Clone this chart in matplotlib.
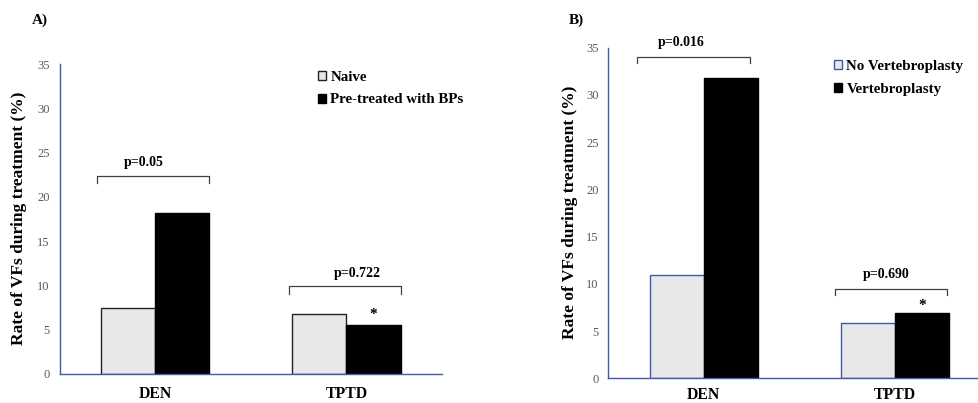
import matplotlib
matplotlib.use("Agg")
import matplotlib.pyplot as plt
from matplotlib.patches import Patch
import numpy as np

plt.rcParams['font.family'] = ['Liberation Serif', 'DejaVu Serif']

categories = ["DEN", "TPTD"]
a_labels = ["Naive", "Pre-treated with BPs"]
a_naive = [7.5, 6.8]
a_pretreated = [18.2, 5.5]
a_pvalues = ["p=0.05", "p=0.722"]

b_labels = ["No Vertebroplasty", "Vertebroplasty"]
b_novp = [10.9, 5.9]
b_vp = [31.8, 6.9]
b_pvalues = ["p=0.016", "p=0.690"]

yticks = [0, 5, 10, 15, 20, 25, 30, 35]
ylabel = "Rate of VFs during treatment (%)"

AX = "#3f5aa6"
GREY = "#e8e8e8"
TICKC = "#595959"
BRK = "#404040"

fig = plt.figure(figsize=(9.79, 4.03), dpi=100)
axA = fig.add_axes([0.0608, 0.072, 0.3907, 0.769])
axB = fig.add_axes([0.6213, 0.0613, 0.3787, 0.8203])

w = 0.283
x = np.arange(len(categories))


def style(ax, xr, xpad):
    ax.set_ylim(0, 35)
    ax.set_xlim(-0.5, xr)
    for s in ["top", "right"]:
        ax.spines[s].set_visible(False)
    for s in ["left", "bottom"]:
        ax.spines[s].set_color(AX)
        ax.spines[s].set_linewidth(1.0)
    ax.set_yticks(yticks)
    ax.set_yticklabels([str(t) for t in yticks], color=TICKC, fontsize=9)
    ax.tick_params(axis='y', length=0, pad=7)
    ax.set_xticks(x)
    ax.set_xticklabels(categories, fontweight='bold', fontsize=11.3)
    ax.tick_params(axis='x', length=0, pad=xpad)


def bracket(ax, x0, x1, ytop, yend, text, tx, ty):
    ax.plot([x0, x0, x1, x1], [yend, ytop, ytop, yend], color=BRK, lw=0.9, clip_on=False)
    ax.text(tx, ty, text, ha='center', va='center', fontweight='bold', fontsize=10, clip_on=False)


# Panel A
axA.bar(x - w / 2, a_naive, w, color=GREY, edgecolor="#222222", linewidth=1.0, label=a_labels[0])
axA.bar(x + w / 2, a_pretreated, w, color="black", edgecolor="black", linewidth=1.0, label=a_labels[1])
style(axA, 1.5, 9)
bracket(axA, -0.305, 0.28, 22.35, 21.6, a_pvalues[0], -0.06, 23.9)
bracket(axA, 0.7, 1.287, 9.94, 9.03, a_pvalues[1], 1.0 + (356.7 - 346) / 191.3, 11.4)
axA.text(1 + w / 2, a_pretreated[1] + 1.2, "*", ha='center', va='center', fontsize=11, fontweight='bold')
hA = [Patch(facecolor=GREY, edgecolor="#222222", linewidth=1.0),
      Patch(facecolor="black", edgecolor="black")]
axA.legend(hA, a_labels, loc='upper left', bbox_to_anchor=(0.675, 0.979), frameon=False,
           prop={'weight': 'bold', 'size': 10.8}, handlelength=0.55, handleheight=0.55,
           handletextpad=0.3, borderpad=0, borderaxespad=0, labelspacing=0.65)

# Panel B
axB.bar(x - w / 2, b_novp, w, color=GREY, edgecolor=AX, linewidth=1.0, label=b_labels[0])
axB.bar(x + w / 2, b_vp, w, color="black", edgecolor="black", linewidth=1.0, label=b_labels[1])
style(axB, 1.44, 6)
bracket(axB, -0.349, 0.24, 34.05, 33.35, b_pvalues[0], -0.118, 35.6)
bracket(axB, 0.686, 1.275, 9.49, 8.79, b_pvalues[1], 0.952, 11.0)
axB.text(1 + w / 2, b_vp[1] + 0.8, "*", ha='center', va='center', fontsize=11, fontweight='bold')
hB = [Patch(facecolor=GREY, edgecolor=AX, linewidth=1.0),
      Patch(facecolor="black", edgecolor="black")]
axB.legend(hB, b_labels, loc='upper left', bbox_to_anchor=(0.608, 0.963), frameon=False,
           prop={'weight': 'bold', 'size': 10.8}, handlelength=0.55, handleheight=0.55,
           handletextpad=0.3, borderpad=0, borderaxespad=0, labelspacing=0.65)

fig.text(19 / 979, 1 - 218 / 403, ylabel, rotation=90, ha='center', va='center',
         fontweight='bold', fontsize=12.5)
fig.text(570 / 979, 1 - 212.5 / 403, ylabel, rotation=90, ha='center', va='center',
         fontweight='bold', fontsize=12.5)
fig.text(32 / 979, 1 - 20 / 403, "A)", ha='left', va='center', fontweight='bold', fontsize=11)
fig.text(569 / 979, 1 - 20 / 403, "B)", ha='left', va='center', fontweight='bold', fontsize=11)

fig.savefig("out.png", dpi=100)
